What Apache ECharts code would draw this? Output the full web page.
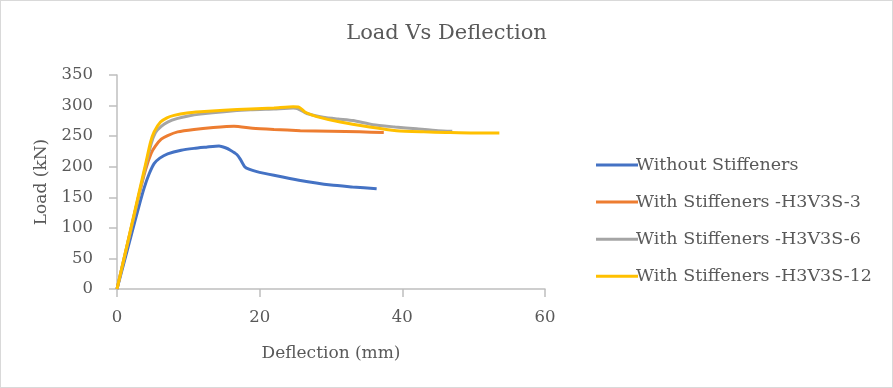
<!DOCTYPE html>
<html><head><meta charset="utf-8">
<script src="https://cdn.jsdelivr.net/npm/echarts@6/dist/echarts.min.js"></script>
<style>html,body{margin:0;padding:0;background:#fff}#c{width:891px;height:386px;border:1px solid #d9d9d9}</style>
</head><body><div id="c"></div>
<script>
const seriesNames = ["Without Stiffeners","With Stiffeners -H3V3S-3","With Stiffeners -H3V3S-6","With Stiffeners -H3V3S-12"];
const xTicks = [0,20,40,60];
const yTicks = [0,50,100,150,200,250,300,350];
const withoutStiffeners = [[0,0],[1,44],[2,88],[3,132],[3.8,165],[4.5,188],[5.2,205],[6,214],[7.1,221],[9,227],[10.8,230],[12.5,232],[14.3,234],[15.2,231],[15.9,227],[16.8,220],[17.3,212],[17.9,200],[18.5,196],[19.6,192],[22,186],[25.5,178],[30,170],[33,167],[36.4,164]];
const h3v3s3 = [[0,0],[1,50],[2,100],[3,150],[4,195],[4.8,222],[5.4,234],[6.2,245],[7.1,251],[8.5,257],[10.8,261],[13.5,264],[16.4,266],[19,263],[22,261],[25.7,259],[30,258],[34,257],[37.4,256]];
const h3v3s6 = [[0,0],[1,50],[2,100],[3,150],[4,200],[4.8,238],[5.4,256],[6.2,266],[7.1,273],[8.5,279],[10,283],[11.7,286],[15,290],[18.7,293],[22,294.5],[24.7,296],[25.3,295],[26.6,287],[28.9,281],[31,278],[33.1,275.5],[35.9,268.5],[39,265],[42,262],[45,259],[47,258]];
const h3v3s12 = [[0,0],[1,51],[2,102],[3,153],[4,204],[4.7,240],[5.2,257],[6.1,273],[7,280],[8,284],[9.8,288],[11.7,290],[15,292.5],[18.7,294.5],[22,296],[24.7,298],[25.5,297.5],[26.4,289],[28,282],[31.3,273],[35.4,265],[39.2,259],[43,257],[46.1,256],[50,255],[53.6,255]];
const colors = ["#4472C4","#ED7D31","#A5A5A5","#FFC000"];
const dataSets = [withoutStiffeners,h3v3s3,h3v3s6,h3v3s12];
const font = "DejaVu Serif";
const chart = echarts.init(document.getElementById('c'));
chart.setOption({
  animation:false,
  textStyle:{fontFamily:font},
  title:{text:"Load Vs Deflection",left:'center',top:17,textStyle:{fontFamily:font,fontSize:21,fontWeight:'normal',color:'#595959'}},
  legend:{orient:'vertical',left:590,top:149,itemGap:17.1,itemWidth:42,itemHeight:3,icon:'rect',
    textStyle:{fontFamily:font,fontSize:17.5,lineHeight:20,color:'#595959',padding:[0,0,0,-7]},data:seriesNames},
  grid:{left:116,right:347,top:74,bottom:98},
  xAxis:{type:'value',min:xTicks[0],max:xTicks[xTicks.length-1],interval:20,
    name:'Deflection (mm)',nameLocation:'middle',nameGap:56,nameTextStyle:{fontFamily:font,fontSize:17,color:'#595959'},
    axisLine:{show:true,lineStyle:{color:'#BFBFBF',width:1.5}},axisTick:{show:true,length:8,lineStyle:{color:'#BFBFBF',width:1.5}},
    axisLabel:{fontFamily:font,fontSize:16.5,color:'#595959',margin:20},splitLine:{show:false}},
  yAxis:{type:'value',min:yTicks[0],max:yTicks[yTicks.length-1],interval:50,
    name:'Load (kN)',nameLocation:'middle',nameGap:67,nameTextStyle:{fontFamily:font,fontSize:17,color:'#595959'},
    axisLine:{show:true,lineStyle:{color:'#BFBFBF',width:1.5}},axisTick:{show:true,length:8,lineStyle:{color:'#BFBFBF',width:1.5}},
    axisLabel:{fontFamily:font,fontSize:16.5,color:'#595959',margin:24},splitLine:{show:false}},
  series:dataSets.map((d,i)=>({name:seriesNames[i],type:'line',data:d,showSymbol:false,smooth:0.2,
    lineStyle:{color:colors[i],width:3},itemStyle:{color:colors[i]}}))
});
</script></body></html>
